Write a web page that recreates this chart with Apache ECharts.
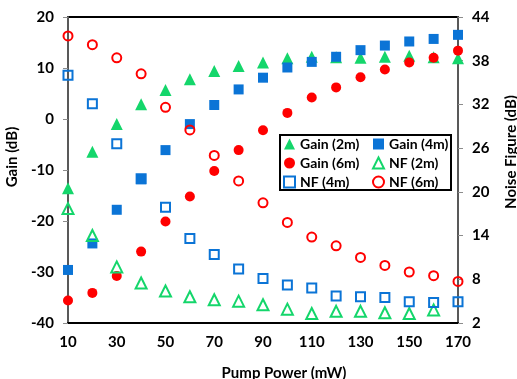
<!DOCTYPE html>
<html>
<head>
<meta charset="utf-8">
<script src="https://cdn.jsdelivr.net/npm/echarts@6/dist/echarts.min.js"></script>
<style>
  html, body { margin: 0; padding: 0; background: #fff; }
  #chart { width: 517px; height: 379px; }
</style>
</head>
<body>
<div id="chart"></div>
<script>
// Pump power sweep (mW)
const pumpPower = [10, 20, 30, 40, 50, 60, 70, 80, 90, 100, 110, 120, 130, 140, 150, 160, 170];
const xTickLabels = [10, 30, 50, 70, 90, 110, 130, 150, 170];
const nfTickLabels = [2, 8, 14, 20, 26, 32, 38, 44];

// Gain (dB), left axis
const gain2m = [-13.6, -6.4, -1.0, 2.9, 5.7, 7.8, 9.4, 10.4, 11.1, 11.9, 12.2, 12.1, 12.0, 12.2, 12.4, 12.1, 11.9];
const gain4m = [-29.6, -24.4, -17.8, -11.8, -6.1, -1.0, 2.75, 5.8, 8.1, 10.1, 11.2, 12.2, 13.5, 14.4, 15.2, 15.7, 16.5];
const gain6m = [-35.6, -34.1, -30.8, -26.0, -20.1, -15.2, -10.2, -6.1, -2.2, 1.2, 4.2, 6.2, 8.2, 9.7, 11.1, 12.0, 13.4];

// Noise figure (dB), right axis
const nf2m = [17.7, 14.0, 9.7, 7.5, 6.4, 5.6, 5.2, 5.0, 4.5, 3.9, 3.3, 3.6, 3.6, 3.4, 3.3, 3.8];
const nf4m = [36.0, 32.1, 26.6, 21.8, 17.9, 13.6, 11.4, 9.4, 8.1, 7.2, 6.8, 5.7, 5.6, 5.5, 4.9, 4.8, 4.9];
const nf6m = [41.4, 40.2, 38.4, 36.2, 31.6, 28.5, 25.0, 21.5, 18.5, 15.8, 13.8, 12.6, 11.0, 9.9, 9.0, 8.5, 7.7];

const GREEN = '#14d66b';
const BLUE = '#0b74d6';
const RED = '#ff0000';
const FONT = 'Lato';

function pairs(values) {
  return values.map((v, i) => [pumpPower[i], v]);
}

function filled(name, data, symbol, size, color) {
  return {
    name, type: 'scatter', yAxisIndex: 0, data: pairs(data),
    symbol, symbolSize: size,
    itemStyle: { color: color, opacity: 1 },
    emphasis: { disabled: true }
  };
}

function hollow(name, data, symbol, size, color) {
  return {
    name, type: 'scatter', yAxisIndex: 1, data: pairs(data),
    symbol, symbolSize: size,
    itemStyle: { color: 'rgba(255,255,255,0)', borderColor: color, borderWidth: 2, opacity: 1 },
    emphasis: { disabled: true }
  };
}

const labelStyle = { color: '#000', fontFamily: FONT, fontWeight: 'bold', fontSize: 15 };
const legendText = { color: '#000', fontFamily: FONT, fontWeight: 'bold', fontSize: 14, lineHeight: 14 };

const chart = echarts.init(document.getElementById('chart'), null, { renderer: 'canvas' });

chart.setOption({
  animation: false,
  backgroundColor: '#fff',
  grid: {
    left: 68, right: 59, top: 17, bottom: 56,
    outerBoundsMode: 'none', containLabel: false,
    show: true, borderColor: '#000', borderWidth: 2, backgroundColor: 'transparent'
  },
  legend: [
    {
      data: ['Gain (2m)', 'Gain (6m)', 'NF (4m)'],
      orient: 'vertical', left: 283, top: 137, padding: 0,
      itemWidth: 11, itemHeight: 11, itemGap: 5,
      textStyle: legendText
    },
    {
      data: ['Gain (4m)', 'NF (2m)', 'NF (6m)'],
      orient: 'vertical', left: 372, top: 137, padding: 0,
      itemWidth: 11, itemHeight: 11, itemGap: 5,
      textStyle: legendText
    }
  ],
  graphic: [{
    type: 'rect', left: 279, top: 134,
    shape: { width: 171, height: 55 },
    style: { fill: 'transparent', stroke: '#000', lineWidth: 2 },
    z: 50
  }],
  xAxis: {
    type: 'value', min: 10, max: 170,
    name: 'Pump Power (mW)', nameLocation: 'middle', nameGap: 43,
    nameTextStyle: Object.assign({ padding: [0, 0, 0, 42] }, labelStyle),
    axisLine: { show: true, onZero: false, lineStyle: { color: '#000', width: 2 } },
    axisTick: { show: false },
    splitLine: { show: false },
    axisLabel: Object.assign({ margin: 12, customValues: xTickLabels }, labelStyle)
  },
  yAxis: [
    {
      type: 'value', min: -40, max: 20, interval: 10, position: 'left',
      name: 'Gain (dB)', nameLocation: 'middle', nameGap: 41,
      nameTextStyle: Object.assign({ padding: [0, 0, 0, 26] }, labelStyle),
      axisLine: { show: true, onZero: false, lineStyle: { color: '#595959', width: 2 } },
      axisTick: { show: true, inside: false, length: 5, lineStyle: { color: '#8c8c8c', width: 1 } },
      splitLine: { show: false },
      axisLabel: Object.assign({ margin: 14 }, labelStyle)
    },
    {
      type: 'value', min: 2, max: 44, position: 'right',
      name: 'Noise Figure (dB)', nameLocation: 'middle', nameGap: 46, nameRotate: 90,
      nameTextStyle: Object.assign({ padding: [0, 0, 0, 36] }, labelStyle),
      axisLine: { show: true, onZero: false, lineStyle: { color: '#595959', width: 2 } },
      axisTick: { show: true, inside: false, length: 5, customValues: nfTickLabels, lineStyle: { color: '#8c8c8c', width: 1 } },
      splitLine: { show: false },
      axisLabel: Object.assign({ margin: 14, customValues: nfTickLabels }, labelStyle)
    }
  ],
  series: [
    filled('Gain (2m)', gain2m, 'triangle', 12, GREEN),
    filled('Gain (4m)', gain4m, 'rect', 10, BLUE),
    filled('Gain (6m)', gain6m, 'circle', 10, RED),
    hollow('NF (2m)', nf2m, 'triangle', 11, GREEN),
    hollow('NF (4m)', nf4m, 'rect', 9, BLUE),
    hollow('NF (6m)', nf6m, 'circle', 9, RED)
  ]
});
</script>
</body>
</html>
